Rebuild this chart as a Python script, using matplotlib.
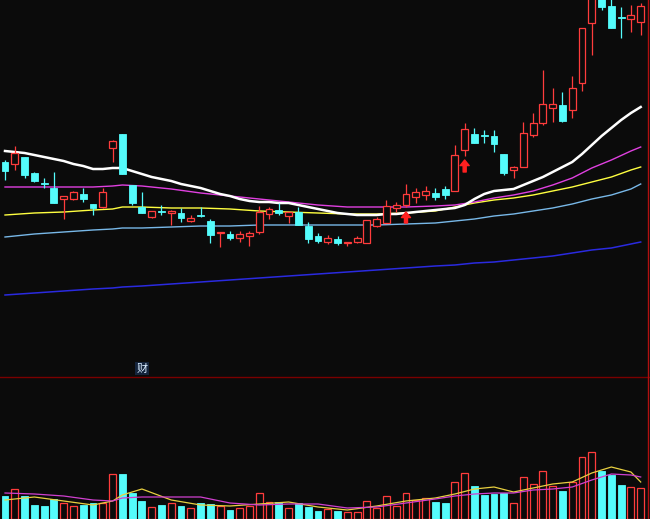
import matplotlib
matplotlib.use('Agg')
import matplotlib.pyplot as plt
from matplotlib.patches import Rectangle
from matplotlib.lines import Line2D
import numpy as np

# ---------------- data ----------------
opens = [23.8, 23.6, 24.3, 22.7, 21.7, 21.2, 20.1, 20.1, 20.6, 19.6,
         19.3, 25.2, 26.6, 21.5, 19.3, 18.3, 18.9, 18.7, 18.7, 17.9,
         18.5, 17.9, 16.7, 16.6, 16.2, 16.4, 16.8, 18.6, 19.0, 18.4,
         18.8, 17.4, 16.4, 15.8, 16.1, 15.7, 15.8, 15.7, 17.4, 17.7,
         19.2, 19.5, 20.3, 20.5, 20.7, 21.1, 20.9, 25.0, 26.6, 26.5,
         26.4, 24.6, 23.0, 23.3, 26.5, 27.7, 29.2, 29.5, 29.0, 31.7,
         37.7, 40.3, 39.4, 38.3, 38.1, 37.8]
highs = [24.0, 25.4, 24.3, 22.8, 22.2, 22.8, 20.4, 20.9, 21.2, 19.6,
         21.2, 26.0, 26.6, 21.5, 20.8, 18.9, 19.5, 19.0, 19.2, 18.5,
         19.3, 18.1, 16.8, 16.9, 16.9, 16.9, 19.4, 19.3, 19.7, 18.8,
         19.3, 17.8, 16.7, 16.5, 16.4, 15.8, 16.4, 18.0, 18.3, 20.0,
         19.8, 21.6, 21.2, 21.4, 21.2, 21.4, 25.5, 27.7, 27.2, 27.0,
         27.0, 24.6, 23.4, 27.8, 28.7, 33.0, 31.2, 30.8, 32.4, 37.2,
         40.5, 40.5, 40.1, 39.3, 39.5, 39.7]
lows = [22.0, 23.0, 22.2, 21.8, 21.2, 19.7, 18.1, 20.0, 19.8, 18.5,
        19.2, 23.8, 22.6, 19.5, 18.7, 18.2, 18.5, 17.5, 17.8, 17.8,
        18.3, 15.7, 15.3, 16.0, 15.8, 15.4, 16.6, 18.1, 18.5, 17.7,
        17.5, 15.7, 15.7, 15.6, 15.5, 15.4, 15.7, 15.7, 17.3, 17.7,
        18.8, 19.3, 19.7, 20.0, 20.0, 20.1, 20.9, 24.4, 25.7, 25.7,
        24.8, 22.5, 22.2, 23.3, 26.3, 27.5, 27.8, 27.8, 28.2, 30.9,
        34.5, 39.0, 37.2, 36.2, 36.8, 36.5]
closes = [22.9, 24.7, 22.5, 21.9, 21.6, 19.7, 20.4, 20.8, 20.1, 19.2,
          20.8, 25.9, 22.6, 19.7, 18.7, 18.9, 18.8, 18.9, 18.2, 18.2,
          18.4, 16.5, 16.8, 16.2, 16.6, 16.7, 18.8, 19.1, 18.7, 18.8,
          17.5, 16.1, 15.9, 16.2, 15.7, 15.8, 16.2, 18.0, 18.1, 19.4,
          19.5, 20.6, 20.8, 20.9, 20.3, 20.5, 24.5, 27.1, 25.7, 26.4,
          25.6, 22.7, 23.3, 26.7, 27.7, 29.6, 29.6, 27.9, 31.2, 37.2,
          40.2, 39.3, 37.2, 38.2, 38.5, 39.4]
volumes = [23, 30, 23, 14, 13, 20, 16, 13, 14, 16,
           16, 45, 45, 26, 18, 12, 14, 16, 13, 11,
           16, 15, 13, 9, 11, 13, 26, 17, 17, 11,
           16, 12, 8, 10, 8, 7, 7, 18, 11, 23,
           13, 26, 19, 21, 17, 16, 37, 46, 33, 24,
           25, 26, 16, 42, 35, 48, 33, 28, 37, 62,
           67, 48, 44, 34, 32, 31]

# short moving average (white), one value per bar
ma_white = [24.9, 24.8, 24.7, 24.5, 24.3, 24.1, 23.9, 23.6, 23.4, 23.1,
            23.1, 23.2, 23.2, 22.9, 22.6, 22.3, 22.1, 21.9, 21.6, 21.4,
            21.2, 20.9, 20.6, 20.4, 20.1, 19.9, 19.8, 19.8, 19.7, 19.7,
            19.5, 19.3, 19.1, 18.9, 18.7, 18.6, 18.5, 18.5, 18.5, 18.6,
            18.6, 18.7, 18.8, 18.9, 19.0, 19.1, 19.2, 19.5, 20.1, 20.6,
            20.9, 21.0, 21.1, 21.5, 21.9, 22.3, 22.8, 23.3, 23.8, 24.6,
            25.5, 26.4, 27.2, 28.0, 28.7, 29.3]

# other moving averages read at selected bars
ma_idx = [0, 3, 6, 9, 11, 12, 14, 17, 20, 23, 26, 29, 32, 35,
          38, 41, 44, 46, 48, 50, 52, 54, 56, 58, 60, 62, 64, 65]
ma_magenta = [21.3, 21.3, 21.3, 21.3, 21.4, 21.5, 21.4, 21.1, 20.7, 20.4, 20.1, 19.8, 19.5, 19.3,
              19.3, 19.3, 19.4, 19.5, 19.8, 20.2, 20.5, 20.9, 21.5, 22.2, 23.2, 24.0, 24.9, 25.3]
ma_yellow = [18.5, 18.7, 18.8, 19.0, 19.1, 19.3, 19.3, 19.2, 19.2, 19.1, 18.9, 18.8, 18.7, 18.6,
             18.6, 18.7, 18.9, 19.3, 19.7, 20.0, 20.2, 20.5, 20.9, 21.3, 21.8, 22.3, 23.0, 23.3]
ma_lightblue = [16.3, 16.6, 16.8, 17.0, 17.1, 17.2, 17.2, 17.3, 17.4, 17.4, 17.5, 17.5, 17.5, 17.5,
                17.5, 17.6, 17.7, 17.9, 18.1, 18.4, 18.6, 18.9, 19.2, 19.6, 20.1, 20.5, 21.1, 21.6]
ma_blue = [10.5, 10.7, 10.9, 11.1, 11.2, 11.3, 11.4, 11.6, 11.8, 12.0, 12.2, 12.4, 12.6, 12.8,
           13.0, 13.2, 13.4, 13.5, 13.7, 13.8, 14.0, 14.2, 14.4, 14.7, 15.0, 15.2, 15.6, 15.8]
vol_ma_yellow = [19, 22, 18, 14, 18, 24, 30, 19, 14, 13, 15, 17, 12, 9,
                 13, 18, 21, 25, 30, 32, 27, 31, 35, 37, 46, 52, 47, 37]
vol_ma_magenta = [26, 25, 23, 19, 18, 21, 22, 22, 22, 16, 14, 15, 15, 11,
                  12, 16, 20, 23, 25, 26, 26, 29, 30, 32, 39, 45, 44, 42]

# buy signals
signal_idx = [41, 47]
signal_base = [17.7, 22.8]
signal_tip = [18.8, 24.0]

label_text = '财'

# ---------------- style ----------------
BG = '#0b0b0b'
RED = '#ff3c3c'
CYAN = '#54fcfc'

W, H = 650, 519
fig = plt.figure(figsize=(W / 100, H / 100), dpi=100, facecolor=BG)
axp = fig.add_axes([0, (H - 376) / H, 1, 376 / H])
axv = fig.add_axes([0, 0, 1, 142 / H])

step = 9.78
x_left = -5 / step
x_right = (W - 5) / step
for ax in (axp, axv):
    ax.set_facecolor(BG)
    ax.set_xlim(x_left, x_right)
    ax.set_xticks([])
    ax.set_yticks([])
    for s in ax.spines.values():
        s.set_visible(False)

axp.set_ylim(2.4, 40.0)
axv.set_ylim(0, 142)

bw = 0.70
n = len(opens)
for i in range(n):
    o, h, l, c = opens[i], highs[i], lows[i], closes[i]
    if c >= o:
        axp.add_patch(Rectangle((i - bw / 2, o), bw, max(c - o, 0.02),
                                facecolor=BG, edgecolor=RED, lw=0.9, zorder=3))
        axp.plot([i, i], [c, h], color=RED, lw=0.9, zorder=3, solid_capstyle='butt')
        axp.plot([i, i], [l, o], color=RED, lw=0.9, zorder=3, solid_capstyle='butt')
        axv.add_patch(Rectangle((i - bw / 2, 0), bw, volumes[i],
                                facecolor=BG, edgecolor=RED, lw=0.9, zorder=2))
    else:
        axp.plot([i, i], [l, h], color=CYAN, lw=0.9, zorder=3, solid_capstyle='butt')
        axp.add_patch(Rectangle((i - bw / 2, c), bw, max(o - c, 0.05),
                                facecolor=CYAN, edgecolor=CYAN, lw=0.6, zorder=3))
        axv.add_patch(Rectangle((i - bw / 2, 0), bw, volumes[i],
                                facecolor=CYAN, edgecolor=CYAN, lw=0.6, zorder=2))

# moving averages
axp.plot(ma_idx, ma_blue, color='#2a2ae0', lw=1.1, zorder=2)
axp.plot(ma_idx, ma_lightblue, color='#78b8e8', lw=1.0, zorder=2)
axp.plot(ma_idx, ma_yellow, color='#ffff40', lw=1.0, zorder=2)
axp.plot(ma_idx, ma_magenta, color='#e040e0', lw=1.0, zorder=2)
axp.plot(np.arange(len(ma_white)), ma_white, color='#ffffff', lw=1.8, zorder=2,
         solid_joinstyle='round')

axv.plot(ma_idx, vol_ma_yellow, color='#e8d040', lw=0.9, zorder=3)
axv.plot(ma_idx, vol_ma_magenta, color='#d040d0', lw=0.9, zorder=3)

# signal arrows
for i, b, t in zip(signal_idx, signal_base, signal_tip):
    axp.annotate('', xy=(i, t), xytext=(i, b),
                 arrowprops=dict(arrowstyle='simple,head_length=0.4,head_width=0.65,tail_width=0.22',
                                 color='#ff2020', mutation_scale=10, shrinkA=0, shrinkB=0),
                 zorder=4)

# panel separator and right border
fig.add_artist(Line2D([0, 1], [(H - 376.5) / H] * 2, color='#7a0000', lw=1.0))
fig.add_artist(Line2D([647.5 / W] * 2, [0, 1], color='#b01010', lw=1.0))

fig.text(142 / W, 1 - 368.5 / H, label_text, color='#d8ecff', fontsize=8,
         family=['Noto Sans CJK SC', 'DejaVu Sans'], ha='center', va='center',
         bbox=dict(boxstyle='square,pad=0.1', facecolor='#14243c', edgecolor='none'))

fig.savefig('out.png', dpi=100, facecolor=BG)
